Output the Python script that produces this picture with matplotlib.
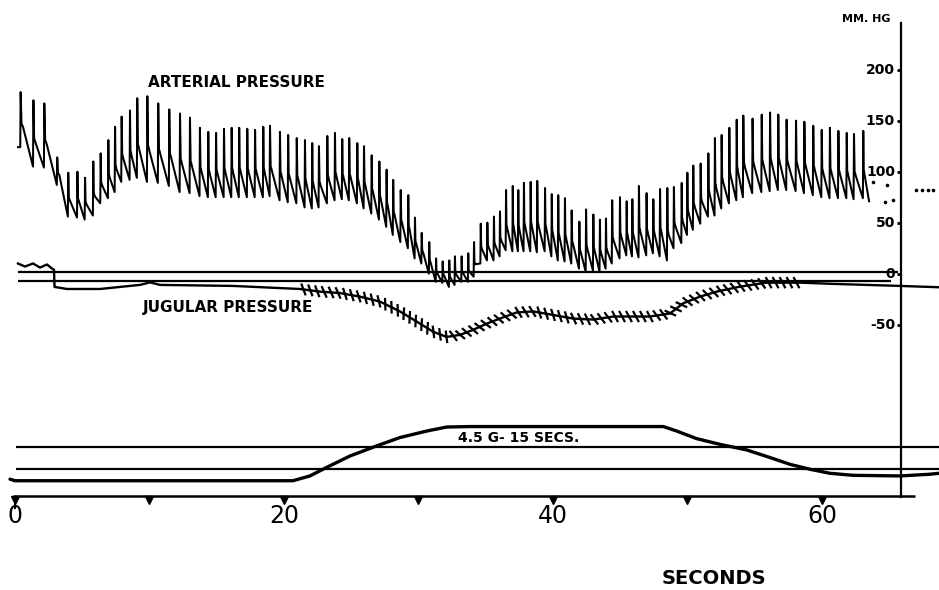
import numpy as np
import matplotlib
matplotlib.use("Agg")
import matplotlib.pyplot as plt
import matplotlib.patheffects as pe

# ---------------- data (read from the recording) ----------------
# Arterial pressure, one entry per heartbeat: time of systolic peak (s),
# systolic peak (mm Hg) and the diastolic trough just before it (mm Hg)
beat_t = [0.42, 1.37, 2.18, 3.14, 3.96, 4.64, 5.21, 5.82, 6.37, 6.94, 7.44, 7.93,
          8.55, 9.09, 9.84, 10.65, 11.47, 12.27, 13.01, 13.75, 14.37, 14.95, 15.54,
          16.11, 16.67, 17.27, 17.85, 18.46, 18.96, 19.70, 20.31, 20.95, 21.56, 22.10,
          22.60, 23.22, 23.79, 24.33, 24.85, 25.45, 25.95, 26.52, 27.09, 27.63, 28.12,
          28.68, 29.24, 29.74, 30.24, 30.80, 31.31, 31.80, 32.29, 32.71, 33.21, 33.70,
          34.13, 34.63, 35.12, 35.61, 36.06, 36.51, 37.01, 37.42, 37.84, 38.34, 38.83,
          39.41, 39.91, 40.39, 40.89, 41.39, 41.96, 42.46, 43.00, 43.49, 43.94, 44.40,
          44.98, 45.48, 45.90, 46.39, 46.96, 47.46, 47.96, 48.50, 48.99, 49.57, 49.99,
          50.43, 50.98, 51.55, 52.04, 52.54, 53.11, 53.66, 54.15, 54.84, 55.52, 56.14,
          56.75, 57.37, 58.07, 58.69, 59.35, 59.98, 60.59, 61.22, 61.84, 62.38, 63.07]
beat_sys = [178, 170, 167, 114, 99, 100, 94, 110, 118, 131, 144, 154, 160, 172, 174,
            167, 161, 157, 153, 143, 139, 138, 142, 143, 143, 142, 141, 144, 145, 139,
            136, 133, 131, 128, 125, 135, 138, 132, 133, 128, 125, 116, 110, 102, 92,
            82, 77, 55, 40, 31, 15, 12, 13, 17, 17, 20, 31, 49, 50, 56, 61, 82, 86, 82,
            89, 90, 91, 84, 78, 77, 74, 62, 51, 63, 58, 53, 54, 72, 75, 71, 73, 86, 79,
            73, 83, 84, 85, 89, 99, 106, 108, 118, 133, 136, 143, 151, 155, 152, 156,
            158, 156, 151, 150, 149, 145, 141, 143, 140, 138, 137, 140]
beat_dia = [124, 105, 104, 87, 56, 55, 53, 57, 69, 74, 80, 90, 92, 94, 90, 89, 86, 80,
            79, 76, 75, 75, 75, 75, 75, 75, 75, 75, 76, 72, 70, 69, 65, 64, 65, 69, 72,
            73, 72, 69, 64, 59, 53, 46, 38, 31, 25, 15, 10, 0, -8, -9, -13, -11, -8, -8,
            -3, 10, 13, 13, 17, 23, 22, 22, 22, 22, 21, 22, 17, 13, 12, 10, 5, 2, 3, 2,
            5, 10, 15, 18, 17, 16, 18, 20, 17, 13, 25, 30, 38, 43, 49, 56, 57, 64, 69,
            72, 75, 79, 80, 81, 82, 82, 81, 79, 77, 75, 74, 74, 74, 73, 74]
art_start_t, art_start_p = 0.22, 124
art_end_t, art_end_p = 63.50, 71
art_dots_t = [63.79, 64.83, 64.68, 65.28, 66.99, 67.43, 67.88, 68.25]
art_dots_p = [90, 87, 70, 72, 82, 82, 82, 82]

# Jugular pressure (mm Hg)
jug_t = [0.22, 0.74, 1.34, 1.86, 2.38, 2.75, 2.90, 2.94, 3.87, 6.32, 9.29, 10.04,
         10.78, 16.21, 21.19, 22.68, 24.16, 25.65, 27.14, 28.62, 29.87, 31.10, 32.10,
         33.09, 34.07, 35.07, 36.06, 37.30, 38.54, 40.02, 41.51, 43.00, 44.48, 47.21,
         48.70, 49.69, 50.93, 52.17, 53.90, 55.89, 58.36, 60.84, 63.32, 65.80, 68.70]
jug_p = [10, 7, 10, 6, 9, 5, 4, -13, -15, -15, -11, -8.5, -11, -12, -15, -17.6, -19,
         -22.5, -27.4, -37, -47, -57, -62, -60, -55, -49, -44, -38, -37, -40.5, -44,
         -45, -42, -42, -39, -29, -22.5, -17.6, -12.7, -8.8, -8.8, -10, -11, -12, -13.3]

# Acceleration (G)
g_t = [-0.37, 0.0, 20.67, 21.93, 23.05, 24.91, 26.89, 28.62, 30.61, 32.10, 33.83,
       48.20, 49.20, 50.68, 52.42, 54.40, 56.13, 57.62, 59.11, 60.59, 62.30, 65.80,
       68.03, 68.70]
g_val = [1.1, 1.0, 1.0, 1.31, 1.81, 2.60, 3.25, 3.79, 4.21, 4.47, 4.5, 4.5, 4.21,
         3.72, 3.35, 2.99, 2.50, 2.06, 1.74, 1.48, 1.35, 1.31, 1.42, 1.48]

pressure_ticks = [200, 150, 100, 50, 0, -50]
pressure_labels = ["200", "150", "100", "50", "0", "-50"]
time_ticks = [0, 10, 20, 30, 40, 50, 60]
time_label_pos = [0, 20, 40, 60]
time_labels = ["0", "20", "40", "60"]
zero_lines_p = [2, -7]
g_ref_lines = [3.2, 1.75]

# ---------------- figure ----------------
FONT = "DejaVu Sans"
fig = plt.figure(figsize=(9.39, 5.90), dpi=100)
fig.patch.set_facecolor("white")
ax = fig.add_axes([0, 0, 1, 1])
ax.set_xlim(-1.115, 68.70)
ax.set_ylim(-310.1, 268.3)
ax.axis("off")
axg = fig.add_axes([0, 0, 1, 1], sharex=ax)
axg.set_ylim(-6.06, 32.06)
axg.axis("off")
axg.patch.set_alpha(0)

# arterial pressure trace: sharp upstroke, steep fall to the dicrotic notch,
# then a slower run-off to the next trough
tt, pp = [art_start_t], [art_start_p]
n = len(beat_t)
for i in range(n):
    t0, s, d = beat_t[i], beat_sys[i], beat_dia[i]
    foot_next = beat_t[i + 1] - 0.03 if i + 1 < n else art_end_t
    T = foot_next - t0
    h = s - d
    tt += [t0 - 0.03, t0, t0 + 0.07 * T, t0 + 0.13 * T, t0 + 0.20 * T]
    pp += [d, s, d + 0.42 * h, d + 0.40 * h, d + 0.36 * h]
tt.append(art_end_t)
pp.append(art_end_p)
ax.plot(tt, pp, color="black", lw=1.45, solid_joinstyle="round")
ax.plot(art_dots_t, art_dots_p, ls="none", marker="o", ms=1.6, color="black")

# reference lines near zero
ax.hlines(zero_lines_p[0], 0.22, 65.65, color="black", lw=1.6)
ax.hlines(zero_lines_p[1], 0.22, 65.1, color="black", lw=1.6)

# jugular trace (pulse ripples most visible during the fall and recovery)
ax.plot(jug_t, jug_p, color="black", lw=1.7, solid_joinstyle="round")
ripple = slice(14, 41)
ax.plot(jug_t[ripple], jug_p[ripple], color="black", lw=1.2,
        path_effects=[pe.TickedStroke(spacing=5, angle=118, length=0.75, linewidth=1.6),
                      pe.TickedStroke(spacing=5, angle=-62, length=0.75, linewidth=1.6)])

# right pressure axis
ax.axvline(65.85, ymin=0.158, ymax=0.9615, color="black", lw=1.6)
for p, lab in zip(pressure_ticks, pressure_labels):
    ax.hlines(p, 65.55, 65.85, color="black", lw=2.0)
    ax.text(65.43, p, lab, ha="right", va="center", fontsize=10,
            fontweight="bold", family=FONT)
ax.text(63.3, 249.7, "MM. HG", ha="center", va="center", fontsize=8,
        fontweight="bold", family=FONT)

# labels
ax.text(9.89, 187, "ARTERIAL PRESSURE", ha="left", va="center", fontsize=11,
        fontweight="bold", family=FONT)
ax.text(9.52, -32.7, "JUGULAR PRESSURE", ha="left", va="center", fontsize=11,
        fontweight="bold", family=FONT)

# G trace
for gl in g_ref_lines:
    axg.hlines(gl, 0.07, 68.70, color="black", lw=1.6)
axg.plot(g_t, g_val, color="black", lw=2.4, solid_capstyle="round")
axg.text(32.94, 3.74, "4.5 G- 15 SECS.", ha="left", va="center", fontsize=10,
         fontweight="bold", family=FONT)

# time axis
axg.hlines(0, -0.15, 66.9, color="black", lw=1.8)
axg.plot(time_ticks, [-0.25] * len(time_ticks), ls="none", marker="v", ms=6,
         color="black")
axg.plot([0, 0], [-0.3, -0.75], color="black", lw=1.5)
for tp, lab in zip(time_label_pos, time_labels):
    axg.text(tp, -1.25, lab, ha="center", va="center", fontsize=17,
             family=FONT)
axg.text(51.97, -5.29, "SECONDS", ha="center", va="center", fontsize=14,
         fontweight="bold", family=FONT)

fig.savefig("out.png", dpi=100, facecolor="white")
